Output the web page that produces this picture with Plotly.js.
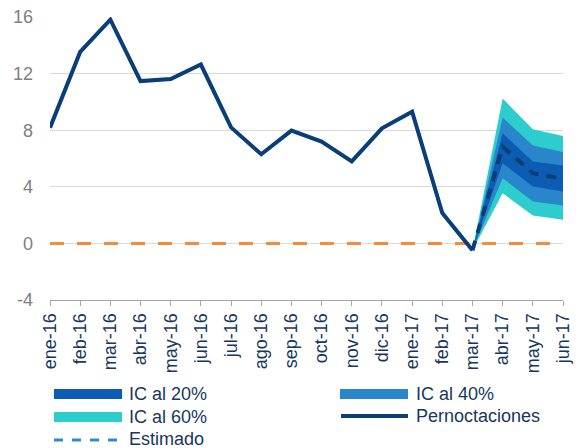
<!DOCTYPE html>
<html>
<head>
<meta charset="utf-8">
<script src="https://cdn.plot.ly/plotly-3.0.1.min.js"></script>
<style>html,body{margin:0;padding:0;background:#fff;}#chart{width:582px;height:448px;}</style>
</head>
<body>
<div id="chart"></div>
<script>
// ---- data ----
const months = ['ene-16','feb-16','mar-16','abr-16','may-16','jun-16','jul-16','ago-16','sep-16','oct-16','nov-16','dic-16','ene-17','feb-17','mar-17','abr-17','may-17','jun-17'];
const histMonths = ['ene-16','feb-16','mar-16','abr-16','may-16','jun-16','jul-16','ago-16','sep-16','oct-16','nov-16','dic-16','ene-17','feb-17','mar-17'];
const pernoctaciones = [8.18, 13.53, 15.81, 11.47, 11.61, 12.64, 8.2, 6.3, 7.97, 7.19, 5.8, 8.13, 9.3, 2.14, -0.49];
const fcMonths = ['mar-17','abr-17','may-17','jun-17'];
const estimado = [-0.49, 6.84, 4.96, 4.56];
const ic20Upper = [-0.49, 7.78, 5.78, 5.5];
const ic20Lower = [-0.49, 5.67, 4.02, 3.67];
const ic40Upper = [-0.49, 8.9, 6.91, 6.46];
const ic40Lower = [-0.49, 4.6, 2.96, 2.68];
const ic60Upper = [-0.49, 10.24, 8.06, 7.59];
const ic60Lower = [-0.49, 3.55, 1.97, 1.67];
const referencia = [0,0,0,0,0,0,0,0,0,0,0,0,0,0,0,0,0,0];
const legendNames = ['IC al 20%', 'IC al 40%', 'IC al 60%', 'Pernoctaciones', 'Estimado'];
const yTicks = [-4, 0, 4, 8, 12, 16];

// ---- style ----
const C20 = '#0B5CB2', C40 = '#2A86CB', C60 = '#2ECDCD', NAVY = '#0A3E78', ORANGE = '#F68B3A', LBLUE = '#2F8BD0';
const TXT = '#17375E';
const FONT = 'Liberation Sans, Arial, sans-serif';

function band(upper, lower, color) {
  return {
    x: fcMonths.concat(fcMonths.slice().reverse()),
    y: upper.concat(lower.slice().reverse()),
    type: 'scatter', mode: 'lines', fill: 'toself', fillcolor: color,
    line: {width: 0, color: color}, hoverinfo: 'skip', showlegend: false
  };
}

const traces = [
  {x: months, y: referencia, type: 'scatter', mode: 'lines', line: {color: ORANGE, width: 3, dash: '14px,13px'}, showlegend: false},
  band(ic60Upper, ic60Lower, C60),
  band(ic40Upper, ic40Lower, C40),
  band(ic20Upper, ic20Lower, C20),
  {x: histMonths, y: pernoctaciones, type: 'scatter', mode: 'lines', name: legendNames[3], line: {color: NAVY, width: 4}, showlegend: false},
  {x: fcMonths, y: estimado, type: 'scatter', mode: 'lines', name: legendNames[4], line: {color: NAVY, width: 4, dash: '10px,8px'}, showlegend: false}
];

// ---- custom legend (pixel -> paper) ----
const L = 50, W = 513, T = 17, H = 283;
const px = v => (v - L) / W;
const py = v => (T + H - v) / H;

const shapes = [
  {type: 'rect', xref: 'paper', yref: 'paper', x0: px(54), x1: px(122), y0: py(389), y1: py(399), fillcolor: C20, line: {width: 0}},
  {type: 'rect', xref: 'paper', yref: 'paper', x0: px(340), x1: px(408), y0: py(389), y1: py(399), fillcolor: C40, line: {width: 0}},
  {type: 'rect', xref: 'paper', yref: 'paper', x0: px(54), x1: px(122), y0: py(412), y1: py(422), fillcolor: C60, line: {width: 0}},
  {type: 'line', xref: 'paper', yref: 'paper', x0: px(341), x1: px(408), y0: py(416), y1: py(416), line: {color: NAVY, width: 4}},
  {type: 'line', xref: 'paper', yref: 'paper', x0: px(54), x1: px(118), y0: py(440), y1: py(440), line: {color: LBLUE, width: 3, dash: '9px,9px'}}
];
const legPos = [[127, 394], [414, 394], [127, 417], [414, 416], [127, 439]];
const annotations = legendNames.map((n, i) => ({
  text: n, xref: 'paper', yref: 'paper', x: px(legPos[i][0]), y: py(legPos[i][1]),
  xanchor: 'left', yanchor: 'middle', showarrow: false,
  font: {family: FONT, size: 18, color: TXT}
}));

const layout = {
  width: 582, height: 448,
  margin: {l: L, r: 582 - L - W, t: T, b: 448 - T - H, pad: 0},
  paper_bgcolor: '#ffffff', plot_bgcolor: '#ffffff',
  showlegend: false,
  font: {family: FONT, size: 18, color: TXT},
  xaxis: {
    type: 'category', categoryorder: 'array', categoryarray: months,
    range: [0, months.length - 1], tickangle: -90,
    showline: true, linecolor: '#a6a6a6', linewidth: 1,
    ticks: 'outside', ticklen: 5, tickcolor: '#a6a6a6', tickwidth: 1,
    showgrid: false, zeroline: false,
    tickfont: {family: FONT, size: 18, color: TXT}
  },
  yaxis: {
    range: [-4, 16], tickmode: 'array', tickvals: yTicks, ticktext: yTicks.map(String),
    showgrid: true, gridcolor: '#d9d9d9', gridwidth: 1, zeroline: false,
    showline: false, ticks: '', ticklabelstandoff: 16,
    tickfont: {family: FONT, size: 18, color: '#808080'}
  },
  shapes: shapes,
  annotations: annotations
};

Plotly.newPlot('chart', traces, layout, {displayModeBar: false, staticPlot: true});
</script>
</body>
</html>
